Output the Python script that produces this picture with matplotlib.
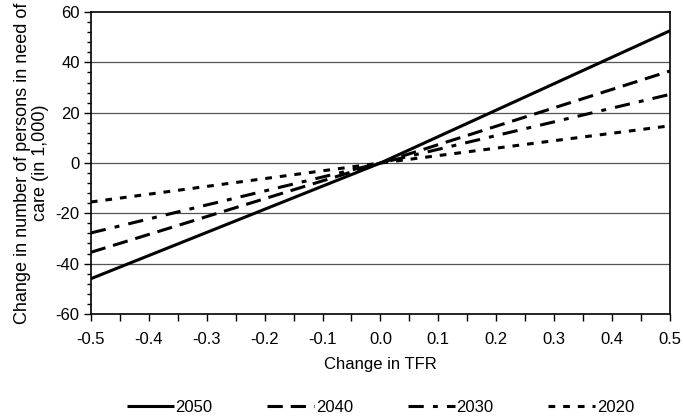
import matplotlib
matplotlib.use("Agg")
import matplotlib.pyplot as plt
from matplotlib.ticker import MultipleLocator

plt.rcParams["font.family"] = ["Liberation Sans", "DejaVu Sans"]
plt.rcParams["font.size"] = 12
plt.rcParams["axes.unicode_minus"] = False

# ── Data ─────────────────────────────────────────────────────────────────────
tfr_change = [-0.5, 0.0, 0.5]
care_2050 = [-46.0, 0.0, 52.6]
care_2040 = [-35.5, 0.0, 36.6]
care_2030 = [-27.8, 0.0, 27.3]
care_2020 = [-15.5, 0.0, 14.8]

series = [
    ("2050", care_2050, None),
    ("2040", care_2040, (5, 2.6)),
    ("2030", care_2030, (5, 3, 1.6, 3)),
    ("2020", care_2020, (2.2, 2.6)),
]

fig = plt.figure(figsize=(6.83, 4.18), dpi=100)
ax = fig.add_axes([0.133, 0.249, 0.848, 0.722])

for y in [-40, -20, 0, 20, 40]:
    ax.axhline(y, color="#555555", lw=0.9, zorder=1)

for label, vals, dash in series:
    line, = ax.plot(tfr_change, vals, color="black", lw=2.2, label=label,
                    zorder=3, solid_capstyle="butt", dash_capstyle="butt")
    if dash:
        line.set_dashes(dash)

ax.set_xlim(-0.5, 0.5)
ax.set_ylim(-60, 60)
ax.xaxis.set_major_locator(MultipleLocator(0.1))
ax.xaxis.set_minor_locator(MultipleLocator(0.05))
ax.yaxis.set_major_locator(MultipleLocator(20))
ax.yaxis.set_minor_locator(MultipleLocator(4))
ax.set_xticklabels([f"{v:.1f}" for v in ax.get_xticks()])
ax.tick_params(axis="both", which="major", length=5, width=1, direction="out", labelsize=12)
ax.tick_params(axis="y", which="minor", length=3, width=1, direction="out")
ax.tick_params(axis="x", which="minor", length=5, width=1, direction="out")
ax.tick_params(axis="x", pad=8)
ax.tick_params(axis="y", pad=3)

for s in ax.spines.values():
    s.set_linewidth(1.2)
    s.set_color("black")

ax.set_xlabel("Change in TFR", labelpad=7, fontsize=12)
ax.set_ylabel("Change in number of persons in need of\ncare (in 1,000)", labelpad=5,
              fontsize=13, linespacing=1.05)

ax.legend(loc="center", bbox_to_anchor=(0.5, -0.31), ncol=4, frameon=False,
          handlelength=2.8, columnspacing=3.3, handletextpad=0.1, fontsize=12)

fig.savefig("out.png", dpi=100)
